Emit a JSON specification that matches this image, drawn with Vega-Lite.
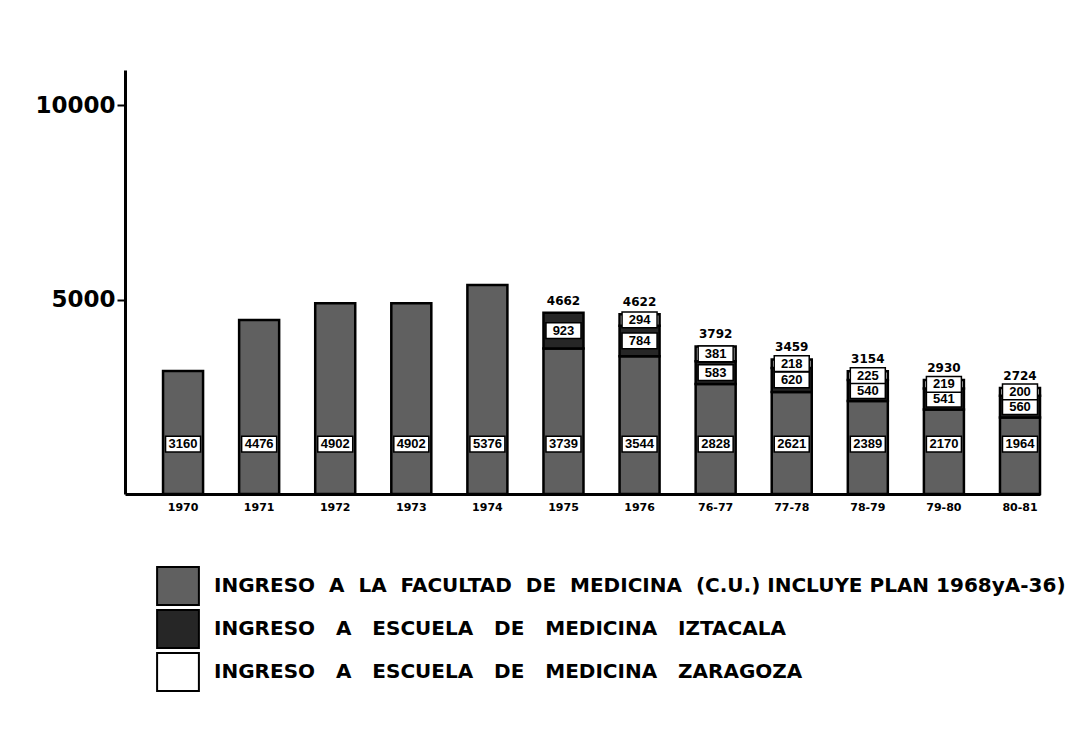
{
  "$schema": "https://vega.github.io/schema/vega-lite/v6.json",
  "autosize": "none",
  "padding": {"left": 125, "top": 70, "right": 41, "bottom": 240},
  "width": 915,
  "height": 424,
  "background": "white",
  "config": {
    "view": {"stroke": null},
    "font": "DejaVu Sans",
    "axis": {"grid": false, "domainColor": "black", "domainWidth": 3, "tickColor": "black", "labelColor": "black", "title": null}
  },
  "data": {
    "values": [
      {"periodo": "1970", "escuela": "Facultad", "ingreso": 3160},
      {"periodo": "1971", "escuela": "Facultad", "ingreso": 4476},
      {"periodo": "1972", "escuela": "Facultad", "ingreso": 4902},
      {"periodo": "1973", "escuela": "Facultad", "ingreso": 4902},
      {"periodo": "1974", "escuela": "Facultad", "ingreso": 5376},
      {"periodo": "1975", "escuela": "Facultad", "ingreso": 3739},
      {"periodo": "1975", "escuela": "Iztacala", "ingreso": 923},
      {"periodo": "1976", "escuela": "Facultad", "ingreso": 3544},
      {"periodo": "1976", "escuela": "Iztacala", "ingreso": 784},
      {"periodo": "1976", "escuela": "Zaragoza", "ingreso": 294},
      {"periodo": "76-77", "escuela": "Facultad", "ingreso": 2828},
      {"periodo": "76-77", "escuela": "Iztacala", "ingreso": 583},
      {"periodo": "76-77", "escuela": "Zaragoza", "ingreso": 381},
      {"periodo": "77-78", "escuela": "Facultad", "ingreso": 2621},
      {"periodo": "77-78", "escuela": "Iztacala", "ingreso": 620},
      {"periodo": "77-78", "escuela": "Zaragoza", "ingreso": 218},
      {"periodo": "78-79", "escuela": "Facultad", "ingreso": 2389},
      {"periodo": "78-79", "escuela": "Iztacala", "ingreso": 540},
      {"periodo": "78-79", "escuela": "Zaragoza", "ingreso": 225},
      {"periodo": "79-80", "escuela": "Facultad", "ingreso": 2170},
      {"periodo": "79-80", "escuela": "Iztacala", "ingreso": 541},
      {"periodo": "79-80", "escuela": "Zaragoza", "ingreso": 219},
      {"periodo": "80-81", "escuela": "Facultad", "ingreso": 1964},
      {"periodo": "80-81", "escuela": "Iztacala", "ingreso": 560},
      {"periodo": "80-81", "escuela": "Zaragoza", "ingreso": 200}
    ]
  },
  "transform": [
    {"calculate": "indexof(['Facultad','Iztacala','Zaragoza'], datum.escuela)", "as": "orden"}
  ],
  "encoding": {
    "x": {
      "field": "periodo", "type": "nominal",
      "sort": ["1970","1971","1972","1973","1974","1975","1976","76-77","77-78","78-79","79-80","80-81"],
      "scale": {"paddingInner": 0.474, "paddingOuter": 0.25, "align": 1},
      "axis": {"labelAngle": 0, "ticks": false, "labelFont": "DejaVu Sans", "labelFontWeight": "bold", "labelFontSize": 11, "labelPadding": 7}
    }
  },
  "layer": [
    {
      "mark": {"type": "bar", "stroke": "black", "strokeWidth": 2.5},
      "encoding": {
        "y": {
          "field": "ingreso", "type": "quantitative", "stack": "zero",
          "scale": {"domain": [0, 10900], "nice": false},
          "axis": {"values": [5000, 10000], "format": "d", "labelFont": "DejaVu Sans", "labelFontWeight": "bold", "labelFontSize": 23, "tickSize": 8, "tickWidth": 2, "labelPadding": 2}
        },
        "order": {"field": "orden", "type": "quantitative"},
        "color": {
          "field": "escuela", "type": "nominal",
          "scale": {"domain": ["Facultad", "Iztacala", "Zaragoza"], "range": ["#606060", "#262626", "#ffffff"]},
          "legend": {
            "orient": "none", "legendX": 33, "legendY": 496, "title": null,
            "symbolType": "M-1.1,-1L1.1,-1L1.1,1L-1.1,1Z", "symbolSize": 1444,
            "symbolStrokeColor": "black", "symbolStrokeWidth": 2, "symbolOpacity": 1,
            "rowPadding": -8, "labelOffset": 16, "labelLimit": 1000,
            "labelFont": "DejaVu Sans", "labelFontWeight": "bold", "labelFontSize": 20, "labelColor": "black",
            "labelExpr": "datum.value == 'Facultad' ? 'INGRESO\u00a0 A\u00a0 LA\u00a0 FACULTAD\u00a0 DE\u00a0 MEDICINA\u00a0 (C.U.) INCLUYE PLAN 1968yA-36)' : datum.value == 'Iztacala' ? 'INGRESO\u00a0\u00a0 A\u00a0\u00a0 ESCUELA\u00a0\u00a0 DE\u00a0\u00a0 MEDICINA\u00a0\u00a0 IZTACALA' : 'INGRESO\u00a0\u00a0 A\u00a0\u00a0 ESCUELA\u00a0\u00a0 DE\u00a0\u00a0 MEDICINA\u00a0\u00a0 ZARAGOZA'"
          }
        }
      }
    },
    {
      "transform": [
        {"stack": "ingreso", "groupby": ["periodo"], "sort": [{"field": "orden"}], "as": ["y0", "y1"]},
        {"calculate": "datum.escuela == 'Facultad' ? 1285 : (datum.y0 + datum.y1) / 2", "as": "ypos"}
      ],
      "encoding": {
        "y": {"field": "ypos", "type": "quantitative"}
      },
      "layer": [
        {
          "mark": {"type": "point", "shape": "M-1,-0.45L1,-0.45L1,0.45L-1,0.45Z", "size": 1225, "filled": true, "fill": "white", "stroke": "black", "strokeWidth": 1.5, "opacity": 1}
        },
        {
          "mark": {"type": "text", "font": "Liberation Sans", "fontWeight": "bold", "fontSize": 13, "color": "black", "baseline": "middle"},
          "encoding": {"text": {"field": "ingreso", "type": "quantitative", "format": "d"}}
        }
      ]
    },
    {
      "transform": [
        {"aggregate": [{"op": "sum", "field": "ingreso", "as": "total"}, {"op": "count", "as": "n"}], "groupby": ["periodo"]},
        {"filter": "datum.n > 1"}
      ],
      "mark": {"type": "text", "font": "DejaVu Sans", "fontWeight": "bold", "fontSize": 12, "color": "black", "baseline": "bottom", "dy": -5},
      "encoding": {
        "y": {"field": "total", "type": "quantitative"},
        "text": {"field": "total", "type": "quantitative", "format": "d"}
      }
    }
  ]
}
